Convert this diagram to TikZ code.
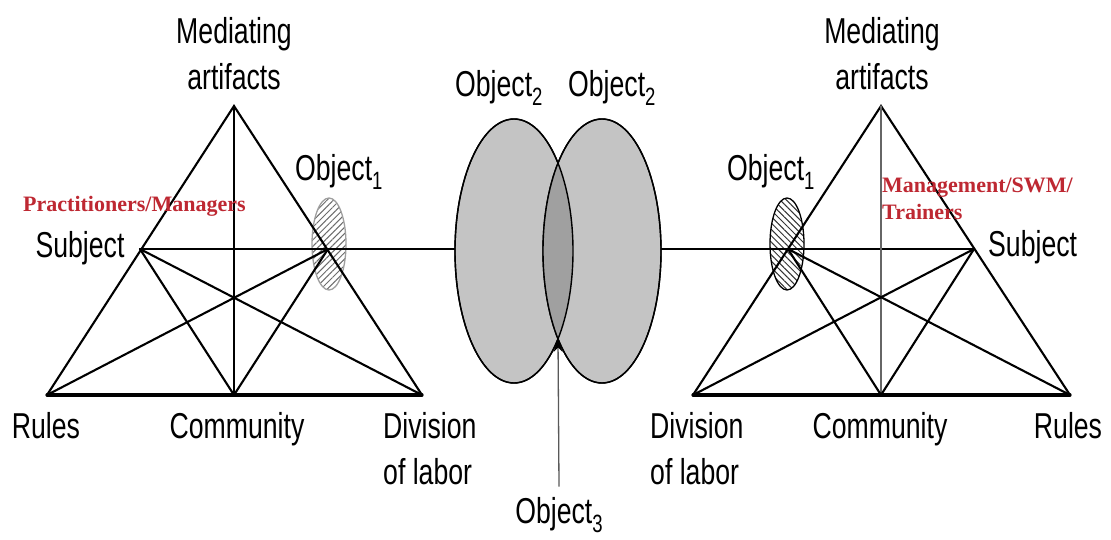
\documentclass[tikz,border=0pt]{standalone}
\usepackage{fontspec}
\setmainfont{Liberation Sans}[FakeStretch=0.74]
\newfontfamily\redserif{Liberation Serif}
\usetikzlibrary{arrows.meta,patterns.meta,shapes.geometric}
\definecolor{ellfill}{RGB}{196,196,196}
\definecolor{lensfill}{RGB}{160,160,160}
\definecolor{labred}{RGB}{190,40,50}
\newcommand\lowsub[1]{\raisebox{-9pt}{\fontsize{25}{25}\selectfont #1}}
\tikzset{
  edge/.style={line width=2.1pt, line cap=round},
  baseedge/.style={line width=3.2pt, line cap=round},
  lbl/.style={inner sep=0pt, font=\fontsize{36}{46}\selectfont},
  redlbl/.style={inner sep=0pt, text=labred, font=\redserif\bfseries\fontsize{22}{27}\selectfont},
  bigell/.style={ellipse, draw, line width=1.4pt, fill=ellfill, minimum width=118pt, minimum height=264pt, inner sep=0pt},
  smallell/.style={ellipse, line width=1.3pt, minimum width=34pt, minimum height=92pt, inner sep=0pt, fill=white},
  arrowline/.style={draw=gray!70!black, line width=1.3pt, -{Stealth[length=14pt,width=9pt,color=black]}}
}
\begin{document}
\begin{tikzpicture}[x=1pt,y=-1pt]
\useasboundingbox[fill=white] (0,0) rectangle (1111,540);

% ---------- central ellipses ----------
\node[bigell] (o2L) at (514,251) {};
\node[bigell] (o2R) at (602,251) {};
\begin{scope}
  \clip (514,251) ellipse [x radius=59, y radius=132];
  \fill[lensfill] (602,251) ellipse [x radius=59, y radius=132];
\end{scope}
\draw[line width=1.4pt] (514,251) ellipse [x radius=59, y radius=132];
\draw[line width=1.4pt] (602,251) ellipse [x radius=59, y radius=132];
\coordinate (lensb) at (558,338);

% ---------- left triangle ----------
\coordinate (A1) at (234,106);
\coordinate (S1) at (140,249);
\coordinate (O1) at (328,249);
\coordinate (R1) at (47,395);
\coordinate (C1) at (234,395);
\coordinate (D1) at (422,395);

\node[smallell, draw=gray!75, pattern={Lines[angle=45,distance=4.5pt,line width=1pt]}, pattern color=gray!85!black] (e1L) at (329,244) {};

\draw[edge] (R1) -- (A1) -- (D1);
\draw[baseedge] (R1) -- (D1);
\draw[edge] (S1) -- (O1);
\draw[edge] (A1) -- (C1);
\draw[edge] (S1) -- (C1);
\draw[edge] (S1) -- (D1);
\draw[edge] (O1) -- (R1);
\draw[edge] (O1) -- (C1);
\draw[edge] (O1) -- (O1 -| o2L.west);

% ---------- right triangle ----------
\coordinate (A2) at (881,106);
\coordinate (S2) at (974,249);
\coordinate (O2) at (788,249);
\coordinate (D2) at (693,395);
\coordinate (C2) at (881,395);
\coordinate (R2) at (1070,395);

\node[smallell, draw=black, pattern={Lines[angle=-45,distance=4.5pt,line width=1pt]}, pattern color=black!80] (e1R) at (787,244) {};

\draw[edge] (D2) -- (A2) -- (R2);
\draw[baseedge] (D2) -- (R2);
\draw[edge] (O2) -- (S2);
\draw[edge, draw=gray!80!black, line width=1.8pt] (A2) -- (C2);
\draw[edge] (S2) -- (C2);
\draw[edge] (S2) -- (D2);
\draw[edge] (O2) -- (R2);
\draw[edge] (O2) -- (C2);
\draw[edge] (o2R.east |- O2) -- (O2);

% ---------- labels ----------
\node[lbl, anchor=north, align=center] (medL) at (234,17) {Mediating\\artifacts};
\node[lbl, anchor=base west] (obj1L) at (295,181) {Object\lowsub{1}};
\node[redlbl, anchor=base west] (pracL) at (23,212) {Practitioners/Managers};
\node[lbl, anchor=base] (subjL) at (80,258) {Subject};
\node[lbl, anchor=base] (rulesL) at (46,438) {Rules};
\node[lbl, anchor=base] (commL) at (237,438) {Community};
\node[lbl, anchor=north west, align=left] (divL) at (383,412) {Division\\of labor};

\node[lbl, anchor=base west] (obj2a) at (455,97) {Object\lowsub{2}};
\node[lbl, anchor=base west] (obj2b) at (568,97) {Object\lowsub{2}};
\node[lbl, anchor=base] (obj3) at (559,523) {Object\lowsub{3}};
\draw[arrowline] ([yshift=10pt]obj3.north) -- (lensb);

\node[lbl, anchor=north, align=center] (medR) at (882,17) {Mediating\\artifacts};
\node[lbl, anchor=base west] (obj1R) at (727,181) {Object\lowsub{1}};
\node[redlbl, anchor=north west, align=left] (mgmt) at (882,178) {Management/SWM/\\Trainers};
\node[lbl, anchor=base west] (subjR) at (988,257) {Subject};
\node[lbl, anchor=north west, align=left] (divR) at (650,412) {Division\\of labor};
\node[lbl, anchor=base] (commR) at (880,438) {Community};
\node[lbl, anchor=base] (rulesR) at (1068,438) {Rules};
\end{tikzpicture}
\end{document}
